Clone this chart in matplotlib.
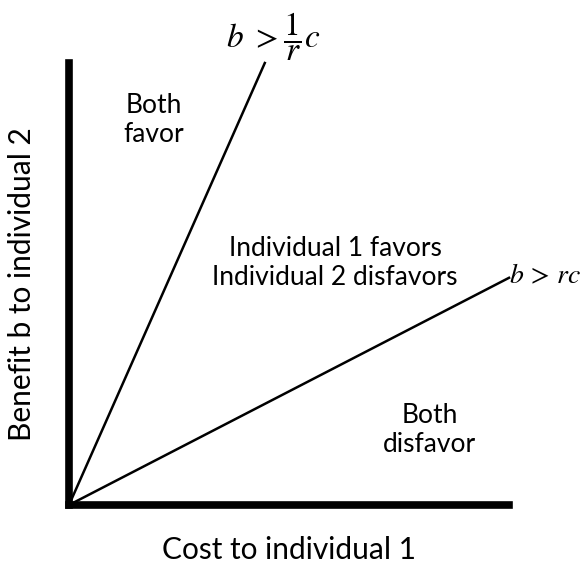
import matplotlib
matplotlib.use("Agg")
import matplotlib.pyplot as plt

plt.rcParams["font.family"] = ["Lato", "DejaVu Sans"]
plt.rcParams["mathtext.fontset"] = "stix"

# boundary lines from the origin (cost, benefit)
upper_cost = [0.0, 0.445]
upper_benefit = [0.0, 1.0]
lower_cost = [0.0, 1.0]
lower_benefit = [0.0, 0.514]

region_labels = ["Both\nfavor", "Individual 1 favors\nIndividual 2 disfavors", "Both\ndisfavor"]
region_pos = [(0.193, 0.871), (0.605, 0.548), (0.82, 0.17)]

fig = plt.figure(figsize=(5.85, 5.69), dpi=100)
ax = fig.add_axes([69 / 585, 64 / 569, 440 / 585, 442 / 569])
ax.set_xlim(0, 1)
ax.set_ylim(0, 1)

for side in ["top", "right"]:
    ax.spines[side].set_visible(False)
for side in ["left", "bottom"]:
    ax.spines[side].set_linewidth(5.5)
    ax.spines[side].set_capstyle("projecting")
ax.set_xticks([])
ax.set_yticks([])

ax.plot(upper_cost, upper_benefit, color="black", lw=1.8, clip_on=False)
ax.plot(lower_cost, lower_benefit, color="black", lw=1.8, clip_on=False)

for label, (x, y) in zip(region_labels, region_pos):
    ax.text(x, y, label, ha="center", va="center", fontsize=19, linespacing=1.2)

ax.text(0.463, 1.06, r"$b\ >\dfrac{1}{r}c$", ha="center", va="center", fontsize=24, clip_on=False)
ax.text(1.0, 0.52, r"$b\,>\,rc$", ha="left", va="center", fontsize=20, clip_on=False)

ax.set_xlabel("Cost to individual 1", fontsize=21.5, labelpad=22)
ax.set_ylabel("Benefit b to individual 2", fontsize=21.5, labelpad=24)

fig.savefig("out.png", dpi=100)
